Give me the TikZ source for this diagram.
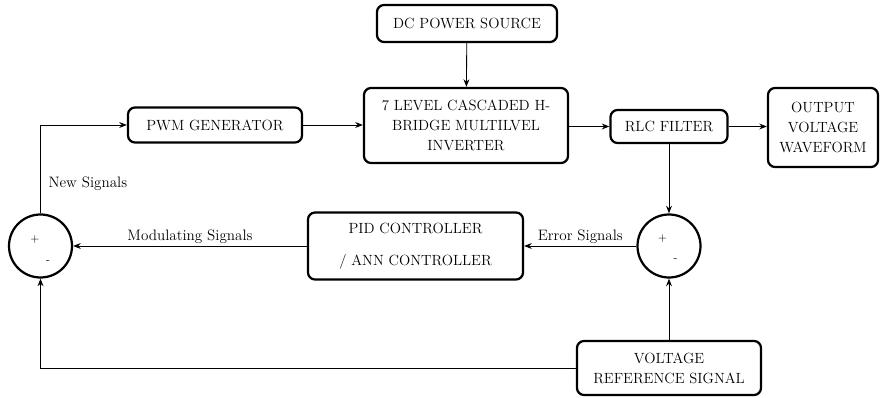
\documentclass[tikz,border=0pt]{standalone}
\usetikzlibrary{arrows.meta,positioning,calc}

\begin{document}
\begin{tikzpicture}[>={Stealth[length=6.5pt,width=5pt]}, x=0.03cm, y=-0.03cm]
    \tikzset{
        blk/.style={draw, rectangle, rounded corners=6pt, line width=1.9pt, align=center, font=\fontsize{12.6}{17}\selectfont, inner sep=0pt},
        sumnode/.style={draw, circle, line width=1.9pt, minimum size=1.89cm, inner sep=0pt},
        sig/.style={font=\fontsize{12.9}{16}\selectfont, inner sep=1.5pt},
        sgn/.style={font=\fontsize{10}{12}\selectfont, inner sep=0pt},
        line/.style={draw, ->, line width=0.75pt}
    }
    \useasboundingbox (0,0) rectangle (883,398);

    % Forward path
    \node[blk, minimum width=5.4cm, minimum height=1.11cm] (dc) at (467,23.5) {DC POWER SOURCE};
    \node[blk, minimum width=6.12cm, minimum height=2.25cm] (inv) at (466,125.5) {7 LEVEL CASCADED H-\\BRIDGE MULTILVEL\\INVERTER};
    \node[blk, minimum width=5.22cm, minimum height=1.05cm] (pwm) at (215,125) {PWM GENERATOR};
    \node[blk, minimum width=3.51cm, minimum height=0.99cm] (rlc) at (669,126.5) {RLC FILTER};
    \node[blk, minimum width=3.3cm, minimum height=2.37cm] (out) at (823,127.5) {OUTPUT\\VOLTAGE\\WAVEFORM};

    % Feedback path
    \node[blk, minimum width=6.45cm, minimum height=2.01cm, font=\fontsize{12.6}{27}\selectfont] (pid) at (415.5,246) {PID CONTROLLER\\/ ANN CONTROLLER};
    \node[blk, minimum width=5.52cm, minimum height=1.62cm] (vref) at (669,368) {VOLTAGE\\REFERENCE SIGNAL};
    \node[sumnode] (sumL) at (40.5,246) {};
    \node[sumnode] (sumR) at (669,246) {};

    % Signs of the summing junctions
    \node[sgn] (sumLp) at ($(sumL)+(-5.5,-6)$) {+};
    \node[sgn] (sumLm) at ($(sumL)+(7.5,16)$) {-};
    \node[sgn] (sumRp) at ($(sumR)+(-6.5,-7)$) {+};
    \node[sgn] (sumRm) at ($(sumR)+(6.5,14)$) {-};

    % Forward connections
    \path[line] (dc) -- (inv);
    \path[line] (pwm.east) -- (pwm.east -| inv.west);
    \path[line] (inv.east |- rlc.west) -- (rlc.west);
    \path[line] (rlc.east) -- (rlc.east -| out.west);

    % Feedback connections
    \path[line] (rlc) -- (sumR);
    \path[line] (vref) -- (sumR);
    \path[line] (sumR) -- node[above, sig] {Error Signals} (pid);
    \path[line] (pid) -- node[above, sig] {Modulating Signals} (sumL);
    \path[line] (vref) -| (sumL);
    \path[line] (sumL) |- node[right, sig, pos=0.17, xshift=5pt] {New Signals} (pwm);

\end{tikzpicture}
\end{document}
